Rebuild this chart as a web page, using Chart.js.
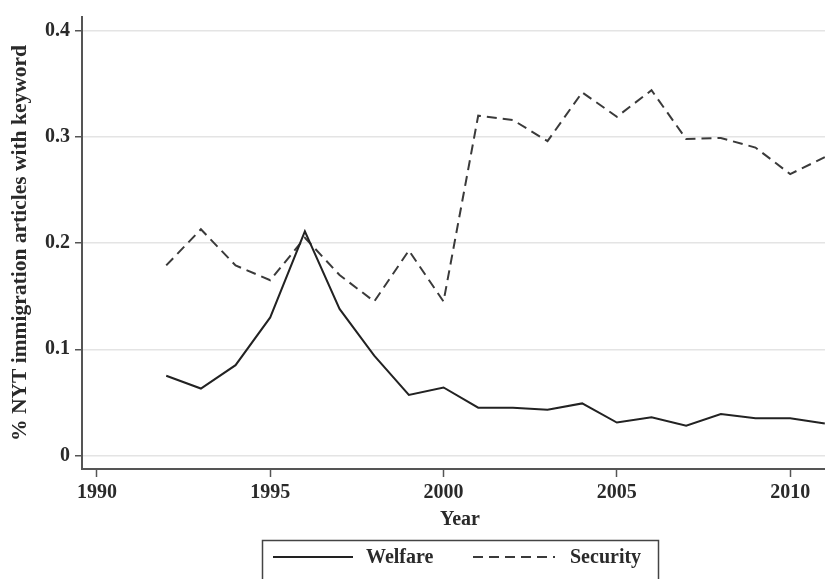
<!DOCTYPE html>
<html lang="en">
<head>
    <script src="https://cdn.jsdelivr.net/npm/chart.js"></script>
    <style>
        html, body { margin: 0; background: #fff; overflow: hidden; }
        /* the figure is cropped on the right, so the plot runs a little past the window */
        #wrap { width: 838px; height: 579px; }
    </style>
</head>
<body>
    <div id="wrap"><canvas id="nytChart"></canvas></div>

    <script>
        // data
        const years = [1992, 1993, 1994, 1995, 1996, 1997, 1998, 1999, 2000, 2001,
                       2002, 2003, 2004, 2005, 2006, 2007, 2008, 2009, 2010, 2011];
        const welfare = [0.075, 0.063, 0.085, 0.130, 0.211, 0.138, 0.094, 0.057, 0.064, 0.045,
                         0.045, 0.043, 0.049, 0.031, 0.036, 0.028, 0.039, 0.035, 0.035, 0.030];
        const security = [0.179, 0.213, 0.179, 0.165, 0.205, 0.170, 0.145, 0.193, 0.145, 0.320,
                          0.316, 0.296, 0.342, 0.319, 0.344, 0.298, 0.299, 0.290, 0.265, 0.281];
        const xTicks = [1990, 1995, 2000, 2005, 2010];
        const yTicks = [0, 0.1, 0.2, 0.3, 0.4];
        const yTickLabels = ['0', '0.1', '0.2', '0.3', '0.4'];

        const serif = '"Liberation Serif", "DejaVu Serif", serif';
        const ink = '#2a2a2a';

        // boxed legend at the bottom, like the Stata output
        const boxLegend = {
            id: 'boxLegend',
            afterDraw(chart) {
                const c = chart.ctx;
                c.save();
                c.strokeStyle = '#444';
                c.lineWidth = 1.5;
                c.strokeRect(262.5, 540.5, 396, 60);
                const items = [
                    { x0: 273, x1: 353, tx: 366 },
                    { x0: 473, x1: 555, tx: 570 }
                ];
                chart.data.datasets.forEach((ds, i) => {
                    const it = items[i];
                    c.beginPath();
                    c.setLineDash(ds.borderDash || []);
                    c.strokeStyle = ds.borderColor;
                    c.lineWidth = 1.8;
                    c.moveTo(it.x0, 557);
                    c.lineTo(it.x1, 557);
                    c.stroke();
                    c.setLineDash([]);
                    c.fillStyle = ink;
                    c.font = 'bold 20px ' + serif;
                    c.textBaseline = 'middle';
                    c.fillText(ds.label, it.tx, 558);
                });
                c.restore();
            }
        };

        const ctx = document.getElementById('nytChart').getContext('2d');
        const chart = new Chart(ctx, {
            type: 'line',
            data: {
                datasets: [
                    {
                        label: 'Welfare',
                        data: years.map((y, i) => ({ x: y, y: welfare[i] })),
                        borderColor: '#222',
                        borderWidth: 2,
                        pointRadius: 0,
                        tension: 0
                    },
                    {
                        label: 'Security',
                        data: years.map((y, i) => ({ x: y, y: security[i] })),
                        borderColor: '#3a3a3a',
                        borderWidth: 2,
                        borderDash: [10, 6],
                        pointRadius: 0,
                        tension: 0
                    }
                ]
            },
            options: {
                responsive: true,
                maintainAspectRatio: false,
                animation: false,
                layout: { padding: { top: 5, right: 0, bottom: 38, left: 0 } },
                plugins: {
                    legend: { display: false },
                    tooltip: { enabled: false }
                },
                scales: {
                    x: {
                        type: 'linear',
                        min: 1989.57,
                        max: 2011.38,
                        afterBuildTicks: s => { s.ticks = xTicks.map(v => ({ value: v })); },
                        afterFit: s => { s.height = 72; },
                        grid: { drawOnChartArea: false, tickLength: 8, tickColor: '#555', tickWidth: 1.5 },
                        border: { color: '#555', width: 2 },
                        ticks: {
                            color: ink,
                            padding: 4,
                            maxRotation: 0,
                            font: { family: serif, size: 20, weight: 'bold' },
                            callback: v => String(v)
                        },
                        title: {
                            display: true,
                            text: 'Year',
                            color: ink,
                            padding: { top: 0, bottom: 9 },
                            font: { family: serif, size: 20, weight: 'bold' }
                        }
                    },
                    y: {
                        min: -0.0128,
                        max: 0.413,
                        afterBuildTicks: s => { s.ticks = yTicks.map(v => ({ value: v })); },
                        afterFit: s => { s.width = 82; },
                        grid: { color: '#e4e4e4', lineWidth: 1.5, tickLength: 7, tickColor: '#555', tickWidth: 1.5 },
                        border: { color: '#555', width: 2 },
                        ticks: {
                            color: ink,
                            padding: 5,
                            font: { family: serif, size: 20, weight: 'bold' },
                            callback: (v, i) => yTickLabels[i]
                        },
                        title: {
                            display: true,
                            text: '% NYT immigration articles with keyword',
                            color: ink,
                            padding: { top: 8, bottom: 0 },
                            font: { family: serif, size: 21.5, weight: 'bold' }
                        }
                    }
                }
            },
            plugins: [boxLegend]
        });
    </script>
</body>
</html>
